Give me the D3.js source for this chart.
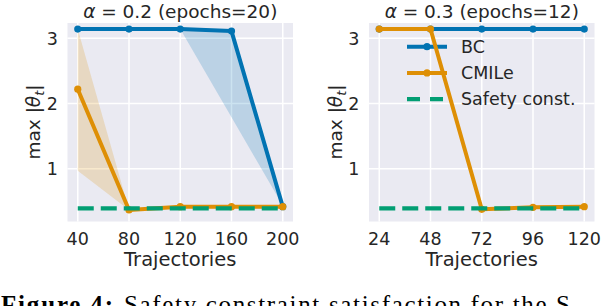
<!DOCTYPE html>
<html lang="en">
<head>
    <meta charset="UTF-8">
    <title>Safety constraint</title>
    <script src="https://d3js.org/d3.v7.min.js"></script>
    <style>
        body { margin: 0; background: #fff; }
        text { font-family: "DejaVu Sans", sans-serif; fill: #262626; }
    </style>
</head>
<body>
    <script>
        const PI = Math.PI;

        // left panel: alpha = 0.2
        const trajLeft = [40, 80, 120, 160, 200];
        const bcLeft = [PI, PI, PI, 3.11, 0.42];
        const bcLeftLo = [PI, PI, PI, 1.79, 0.44];
        const bcLeftHi = [PI, PI, PI, PI, 0.42];
        const cmLeft = [2.22, 0.37, 0.42, 0.42, 0.42];
        const cmLeftLo = [0.97, 0.37, 0.42, 0.42, 0.42];
        const cmLeftHi = [PI, 0.37, 0.42, 0.42, 0.42];

        // right panel: alpha = 0.3
        const trajRight = [24, 48, 72, 96, 120];
        const bcRight = [PI, PI, PI, PI, PI];
        const cmRight = [PI, PI, 0.38, 0.41, 0.42];

        const safety = PI / 8;
        const yTicks = [1, 2, 3];

        const w = 602;
        const h = 306;
        const blue = "#0173b2";
        const orange = "#de8f05";
        const green = "#029e73";

        const svg = d3.select("body")
                        .append("svg")
                        .attr("width", w)
                        .attr("height", h);

        const yScale = d3.scaleLinear()
                     .domain([0.193, 3.234])
                     .range([221.5, 23]);

        function panel(left, xDomain, xTicks, alphaTxt, epochs, series) {
            const x0 = left, x1 = left + 225.5;
            const xScale = d3.scaleLinear().domain(xDomain).range([x0, x1]);
            const g = svg.append("g");

            g.append("rect")
                .attr("x", x0).attr("y", yScale.range()[1])
                .attr("width", x1 - x0)
                .attr("height", yScale.range()[0] - yScale.range()[1])
                .attr("fill", "#eaeaf2");

            // grid
            g.selectAll(".vg").data(xTicks).enter().append("line")
                .attr("x1", d => xScale(d)).attr("x2", d => xScale(d))
                .attr("y1", yScale.range()[1]).attr("y2", yScale.range()[0])
                .attr("stroke", "#fff").attr("stroke-width", 1.5);
            g.selectAll(".hg").data(yTicks).enter().append("line")
                .attr("x1", x0).attr("x2", x1)
                .attr("y1", d => yScale(d)).attr("y2", d => yScale(d))
                .attr("stroke", "#fff").attr("stroke-width", 1.5);

            // tick labels
            g.selectAll(".xt").data(xTicks).enter().append("text")
                .attr("x", d => xScale(d)).attr("y", 244.5)
                .attr("text-anchor", "middle").style("font-size", "17.5px")
                .text(d => d);
            g.selectAll(".yt").data(yTicks).enter().append("text")
                .attr("x", x0 - 9.5).attr("y", d => yScale(d) + 6.3)
                .attr("text-anchor", "end").style("font-size", "17.5px")
                .text(d => d);

            g.append("text")
                .attr("x", (x0 + x1) / 2).attr("y", 265.5)
                .attr("text-anchor", "middle").style("font-size", "19.5px")
                .text("Trajectories");

            const yl = g.append("text")
                .attr("transform", "translate(" + (x0 - 27.5) + ",122) rotate(-90)")
                .attr("text-anchor", "middle").style("font-size", "18.5px");
            yl.append("tspan").text("max |");
            yl.append("tspan").style("font-style", "italic").text("θ");
            yl.append("tspan").style("font-style", "italic").style("font-size", "13px")
                .attr("dy", 4).text("t");
            yl.append("tspan").attr("dy", -4).text("|");

            const tt = g.append("text")
                .attr("x", (x0 + x1) / 2).attr("y", 17.5)
                .attr("text-anchor", "middle").style("font-size", "18.5px");
            tt.append("tspan").style("font-style", "italic").text("α");
            tt.append("tspan").text(" = " + alphaTxt + " (epochs=" + epochs + ")");

            const area = d3.area()
                .x(d => xScale(d[0]))
                .y0(d => yScale(d[1]))
                .y1(d => yScale(d[2]));
            const line = d3.line()
                .x(d => xScale(d[0]))
                .y(d => yScale(d[1]));

            series.forEach(s => {
                if (s.lo) {
                    const band = s.x.map((v, i) => [v, s.lo[i], s.hi[i]]);
                    g.append("path")
                        .attr("d", area(band))
                        .attr("fill", s.color).attr("fill-opacity", 0.2);
                }
            });

            return { g, xScale, line };
        }

        function drawLines(p, series, xs) {
            series.forEach(s => {
                const pts = s.x.map((v, i) => [v, s.y[i]]);
                p.g.append("path")
                    .attr("d", p.line(pts))
                    .attr("fill", "none")
                    .attr("stroke", s.color).attr("stroke-width", 4)
                    .attr("stroke-linejoin", "round");
                p.g.selectAll(null).data(pts).enter().append("circle")
                    .attr("cx", d => p.xScale(d[0])).attr("cy", d => yScale(d[1]))
                    .attr("r", 3.6).attr("fill", s.color);
            });
            p.g.append("line")
                .attr("x1", p.xScale(xs[0])).attr("x2", p.xScale(xs[xs.length - 1]))
                .attr("y1", yScale(safety)).attr("y2", yScale(safety))
                .attr("stroke", green).attr("stroke-width", 4.2)
                .attr("stroke-dasharray", "16,7");
        }

        const leftSeries = [
            { x: trajLeft, y: bcLeft, lo: bcLeftLo, hi: bcLeftHi, color: blue },
            { x: trajLeft, y: cmLeft, lo: cmLeftLo, hi: cmLeftHi, color: orange }
        ];
        const rightSeries = [
            { x: trajRight, y: bcRight, color: blue },
            { x: trajRight, y: cmRight, color: orange }
        ];

        const pl = panel(67.5, [32, 208], trajLeft, "0.2", 20, leftSeries);
        drawLines(pl, leftSeries, trajLeft);

        const pr = panel(369, [19.2, 124.8], trajRight, "0.3", 12, rightSeries);

        // legend (no frame)
        const legend = [
            { name: "BC", color: blue, dash: null },
            { name: "CMILe", color: orange, dash: null },
            { name: "Safety const.", color: green, dash: "13,10" }
        ];
        const lg = pr.g.selectAll(".lg").data(legend).enter().append("g")
            .attr("transform", (d, i) => "translate(407," + (46.7 + i * 26.2) + ")");
        lg.append("line")
            .attr("x1", 0).attr("x2", 40)
            .attr("stroke", d => d.color)
            .attr("stroke-width", d => d.dash ? 4.2 : 4)
            .attr("stroke-dasharray", d => d.dash);
        lg.filter(d => !d.dash).append("circle")
            .attr("cx", 20).attr("r", 3.6).attr("fill", d => d.color);
        lg.append("text")
            .attr("x", 54).attr("y", 6.3).style("font-size", "17.5px")
            .text(d => d.name);

        drawLines(pr, rightSeries, trajRight);

        // caption, cut by the picture edge
        const cap = svg.append("text")
            .attr("x", 1).attr("y", 313)
            .style("font-family", "'Liberation Serif', 'DejaVu Serif', serif")
            .style("font-size", "25px").style("fill", "#000");
        cap.append("tspan").style("font-weight", "bold")
            .attr("textLength", 112).text("Figure 4:");
        cap.append("tspan").attr("x", 124)
            .attr("textLength", 446).text("Safety constraint satisfaction for the S");
    </script>
</body>
</html>
